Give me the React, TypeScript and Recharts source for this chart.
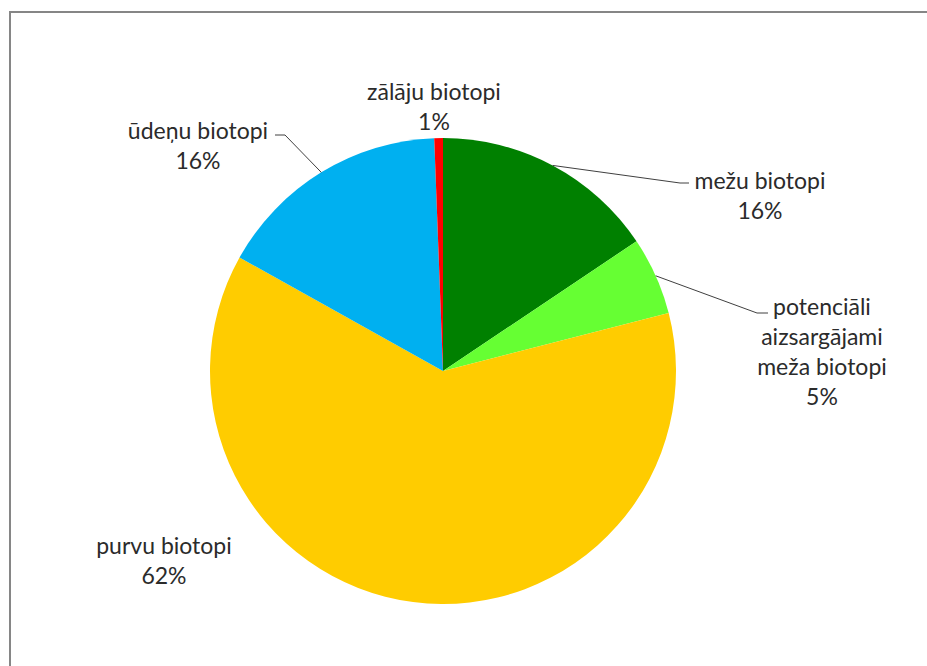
import React from "react";
import { PieChart, Pie, Cell } from "recharts";

// biotopu sadalījums (%), secībā pulksteņrādītāja virzienā no augšas
const categories = [
    "mežu biotopi",
    "potenciāli\naizsargājami\nmeža biotopi",
    "purvu biotopi",
    "ūdeņu biotopi",
    "zālāju biotopi",
];
const shares = [15.6, 5.4, 62.1, 16.3, 0.6];
const colors = ["#008000", "#66FF33", "#FFCC00", "#00B0F0", "#FF0000"];

// label placement (chart px): text centre of first line, leader elbow (null = no leader)
const labelLayout = [
    { x: 760, y: 180, elbow: [680, 183], end: [689, 183], anchor: "middle" },
    { x: 822, y: 306, elbow: [757, 313], end: [768, 313], anchor: "middle" },
    { x: 164, y: 545, elbow: null, end: null, anchor: "middle" },
    { x: 198, y: 130, elbow: [285, 135], end: [275, 135], anchor: "middle" },
    { x: 434, y: 91, elbow: null, end: null, anchor: "middle" },
];

const data = categories.map((name, i) => ({ name, value: shares[i] }));

const W = 927;
const H = 666;
const RAD = Math.PI / 180;
const LINE_H = 30;
const TEXT_COLOR = "#2b2b2b";

const renderLabel = (props: any) => {
    const { cx, cy, midAngle, outerRadius, index, percent } = props;
    const lay = labelLayout[index];
    const lines = String(categories[index]).split("\n");
    lines.push(`${Math.round(percent * 100)}%`);
    const sx = cx + outerRadius * Math.cos(-midAngle * RAD);
    const sy = cy + outerRadius * Math.sin(-midAngle * RAD);
    return (
        <g key={`lbl-${index}`}>
            {lay.elbow && lay.end ? (
                <polyline
                    points={`${sx},${sy} ${lay.elbow[0]},${lay.elbow[1]} ${lay.end[0]},${lay.end[1]}`}
                    fill="none"
                    stroke="#404040"
                    strokeWidth={1}
                />
            ) : null}
            <text
                x={lay.x}
                y={lay.y}
                textAnchor={lay.anchor as any}
                dominantBaseline="central"
                fill={TEXT_COLOR}
                fontFamily="Lato, 'Open Sans', sans-serif"
                fontSize={23}
            >
                {lines.map((ln, k) => (
                    <tspan key={k} x={lay.x} dy={k === 0 ? 0 : LINE_H}>
                        {ln}
                    </tspan>
                ))}
            </text>
        </g>
    );
};

export default function App() {
    return (
        <div
            style={{
                position: "absolute",
                left: 0,
                top: 0,
                width: W,
                height: H,
                background: "#fff",
                overflow: "hidden",
            }}
        >
            <div
                style={{
                    position: "absolute",
                    left: 9,
                    top: 11,
                    width: W,
                    height: H,
                    borderLeft: "2px solid #868686",
                    borderTop: "2px solid #868686",
                }}
            />
            <div style={{ position: "absolute", left: 0, top: 0 }}>
                <PieChart
                    width={W}
                    height={H}
                    margin={{ top: 0, right: 0, bottom: 0, left: 0 }}
                >
                    <Pie
                        data={data}
                        dataKey="value"
                        nameKey="name"
                        cx={443}
                        cy={371}
                        outerRadius={233}
                        startAngle={90}
                        endAngle={-270}
                        stroke="none"
                        label={renderLabel}
                        labelLine={false}
                        isAnimationActive={false}
                    >
                        {data.map((d, i) => (
                            <Cell key={d.name} fill={colors[i]} />
                        ))}
                    </Pie>
                </PieChart>
            </div>
        </div>
    );
}
